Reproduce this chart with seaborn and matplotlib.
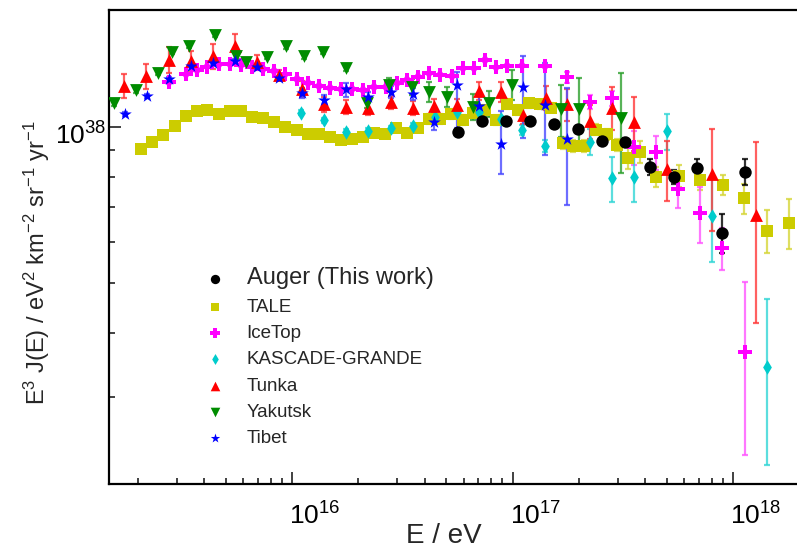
import matplotlib
matplotlib.use("Agg")
import numpy as np
import pandas as pd
import matplotlib.pyplot as plt
from matplotlib.ticker import LogLocator, NullFormatter
from matplotlib.transforms import ScaledTranslation
import seaborn as sns

# energies as log10(E/eV), flux E^3 J(E) in units of 1e37 eV^2 km^-2 sr^-1 yr^-1
auger_lgE = [16.754, 16.860, 16.972, 17.078, 17.187, 17.297, 17.407, 17.510, 17.624, 17.732, 17.838, 17.949, 18.054]
auger_flux = [9.78, 10.24, 10.24, 10.24, 10.12, 9.89, 9.40, 9.36, 8.37, 8.01, 8.31, 6.24, 8.19]
auger_err = [0.1, 0.1, 0.1, 0.1, 0.1, 0.12, 0.15, 0.15, 0.30, 0.25, 0.37, 0.53, 0.47]

tale_lgE = [15.315, 15.366, 15.416, 15.469, 15.518, 15.568, 15.616, 15.668, 15.719, 15.769,
            15.820, 15.870, 15.918, 15.968, 16.021, 16.074, 16.122, 16.172, 16.222, 16.271,
            16.321, 16.372, 16.422, 16.472, 16.523, 16.573, 16.623, 16.671, 16.721, 16.776,
            16.822, 16.874, 16.924, 16.975, 17.025, 17.076, 17.125, 17.175, 17.227, 17.276,
            17.325, 17.377, 17.427, 17.474, 17.525, 17.578, 17.652, 17.754, 17.850, 17.955,
            18.051, 18.153, 18.253]
tale_flux = [9.05, 9.36, 9.64, 10.04, 10.50, 10.74, 10.77, 10.57, 10.74, 10.72,
             10.45, 10.38, 10.21, 10.00, 9.85, 9.67, 9.67, 9.54, 9.43, 9.45,
             9.57, 9.74, 9.69, 9.96, 9.71, 9.94, 10.33, 10.34, 10.60, 10.32,
             10.63, 10.77, 10.30, 11.06, 10.78, 11.10, 11.05, 10.89, 9.32, 9.17,
             9.17, 9.87, 9.66, 9.22, 8.71, 8.95, 8.00, 8.04, 7.88, 7.72,
             7.27, 6.30, 6.53]
tale_err = [0.1] * 26 + [0.23] * 12 + [0.25] * 6 + [0.43, 0.44, 0.36, 0.39, 0.35, 0.34, 0.48, 0.59, 0.73]

icetop_lgE = [15.442, 15.519, 15.568, 15.616, 15.669, 15.719, 15.769, 15.820, 15.870, 15.918,
              15.968, 16.021, 16.071, 16.122, 16.172, 16.222, 16.273, 16.323, 16.373, 16.425,
              16.475, 16.523, 16.573, 16.623, 16.673, 16.724, 16.774, 16.827, 16.875, 16.924,
              16.975, 17.045, 17.149, 17.249, 17.351, 17.450, 17.550, 17.651, 17.752, 17.850,
              17.949, 18.054]
icetop_flux = [12.21, 12.62, 12.87, 13.06, 13.20, 13.20, 13.16, 13.06, 12.91, 12.81,
               12.62, 12.36, 12.16, 12.00, 11.86, 11.81, 11.81, 11.77, 11.94, 11.94,
               12.13, 12.31, 12.49, 12.68, 12.60, 12.54, 12.96, 12.96, 13.45, 13.01,
               13.12, 13.12, 13.08, 12.45, 11.18, 11.34, 9.12, 8.92, 7.59, 6.81,
               5.83, 3.67]
icetop_err = [0.1] * 33 + [0.28, 0.35, 0.40, 0.69, 0.67, 0.61, 0.85, 0.55, 1.35]

kg_lgE = [16.041, 16.145, 16.245, 16.346, 16.448, 16.547, 16.649, 16.747, 16.848, 16.946,
          17.045, 17.147, 17.351, 17.450, 17.552, 17.702, 17.903, 18.153]
kg_flux = [10.63, 10.28, 9.78, 9.81, 9.93, 10.04, 10.43, 10.69, 10.66, 10.35,
           9.85, 9.19, 9.36, 7.95, 8.01, 9.81, 6.73, 3.43]
kg_err = [0.12] * 10 + [0.22, 0.25, 0.54, 0.78, 0.85, 0.78, 1.26, 1.21]

tunka_lgE = [15.238, 15.338, 15.441, 15.541, 15.643, 15.741, 15.843, 15.942, 16.044, 16.144,
             16.245, 16.346, 16.447, 16.547, 16.645, 16.747, 16.848, 16.948, 17.046, 17.151,
             17.249, 17.351, 17.450, 17.550, 17.699, 17.905, 18.105]
tunka_flux = [11.98, 12.53, 13.47, 13.39, 13.69, 14.30, 13.33, 12.60, 11.81, 11.06,
              10.90, 10.88, 11.14, 10.88, 10.95, 10.99, 11.73, 11.68, 10.55, 11.36,
              11.06, 10.24, 10.89, 10.20, 8.28, 8.10, 6.75]
tunka_err = [0.64, 0.70, 0.75, 0.60, 0.78, 0.83, 0.44, 0.28, 0.42, 0.37,
             0.34, 0.34, 0.34, 0.34, 0.34, 0.34, 0.45, 0.52, 0.42, 0.61,
             0.79, 0.77, 1.02, 1.22, 1.10, 1.80, 2.58]

yakutsk_lgE = [15.193, 15.293, 15.390, 15.456, 15.534, 15.651, 15.746, 15.793, 15.888, 15.973,
               16.055, 16.142, 16.246, 16.338, 16.441, 16.542, 16.620, 16.702, 16.819, 16.895,
               16.996, 17.219, 17.302, 17.492]
yakutsk_flux = [11.10, 11.77, 12.71, 13.96, 14.31, 15.03, 13.69, 13.35, 13.65, 14.30,
                13.67, 13.96, 12.98, 11.10, 12.06, 11.94, 11.68, 11.41, 10.93, 11.10,
                12.06, 10.80, 10.80, 10.41]
yakutsk_err = [0.15] * 13 + [0.25, 0.38, 0.42, 0.52, 0.51, 0.61, 0.64, 0.80, 1.25, 1.63, 2.28]

tibet_lgE = [15.243, 15.344, 15.442, 15.541, 15.643, 15.741, 15.843, 15.941, 16.044, 16.144,
             16.246, 16.346, 16.447, 16.547, 16.645, 16.747, 16.848, 16.947, 17.046, 17.147,
             17.249]
tibet_flux = [10.58, 11.46, 12.35, 13.12, 13.26, 13.39, 13.04, 12.43, 11.64, 11.26,
              11.80, 11.39, 11.68, 11.56, 10.23, 12.04, 10.97, 9.27, 11.94, 11.01,
              9.46]
tibet_err_lo = [0.1] * 8 + [0.26, 0.25, 0.37, 0.30, 0.31, 0.31, 0.36, 2.11, 0.60, 1.17, 2.44, 2.19, 2.40]
tibet_err_hi = [0.1] * 8 + [0.26, 0.25, 0.37, 0.30, 0.31, 0.31, 0.36, 0.73, 0.60, 1.45, 1.75, 2.28, 2.40]

labels = ["Auger (This work)", "TALE", "IceTop", "KASCADE-GRANDE", "Tunka", "Yakutsk", "Tibet"]

# build a long table
series = {
    "Auger (This work)": (auger_lgE, auger_flux, auger_err, auger_err),
    "TALE": (tale_lgE, tale_flux, tale_err, tale_err),
    "IceTop": (icetop_lgE, icetop_flux, icetop_err, icetop_err),
    "KASCADE-GRANDE": (kg_lgE, kg_flux, kg_err, kg_err),
    "Tunka": (tunka_lgE, tunka_flux, tunka_err, tunka_err),
    "Yakutsk": (yakutsk_lgE, yakutsk_flux, yakutsk_err, yakutsk_err),
    "Tibet": (tibet_lgE, tibet_flux, tibet_err_lo, tibet_err_hi),
}
rows = []
for name, (lg, fl, lo, hi) in series.items():
    for a, b, c, d in zip(lg, fl, lo, hi):
        rows.append({"exp": name, "E": 10.0 ** a, "flux": b * 1e37, "lo": c * 1e37, "hi": d * 1e37})
df = pd.DataFrame(rows)

# marker styles
styles = {
    "Auger (This work)": dict(marker="o", color="black", s=80, bar="black"),
    "TALE": dict(marker="s", color="#cccc00", s=68, bar="#d6d63a"),
    "IceTop": dict(marker="P", color="#ff00ff", s=100, bar="#ff55ff"),
    "KASCADE-GRANDE": dict(marker="d", color="#00cccc", s=55, bar="#33d6d6"),
    "Tunka": dict(marker="^", color="#ff0000", s=85, bar="#ff3a3a"),
    "Yakutsk": dict(marker="v", color="#008c00", s=85, bar="#2ea02e"),
    "Tibet": dict(marker="*", color="#0000ff", s=90, bar="#4a4aff"),
}
draw_order = ["TALE", "IceTop", "KASCADE-GRANDE", "Tunka", "Yakutsk", "Tibet", "Auger (This work)"]

sns.set_style("ticks")
plt.rcParams["font.family"] = ["Liberation Sans", "DejaVu Sans"]
plt.rcParams["mathtext.fontset"] = "custom"
plt.rcParams["mathtext.rm"] = "Liberation Sans"
plt.rcParams["mathtext.it"] = "Liberation Sans:italic"
plt.rcParams["mathtext.bf"] = "Liberation Sans:bold"

fig = plt.figure(figsize=(7.97, 5.49), dpi=100)
ax = fig.add_axes([109 / 797, 1 - 483.5 / 549, 1 - 109 / 797, 473.5 / 549])

for name in draw_order:
    st = styles[name]
    sub = df[df["exp"] == name]
    ax.errorbar(sub["E"], sub["flux"], yerr=[sub["lo"], sub["hi"]], fmt="none",
                ecolor=st["bar"], elinewidth=1.6, capsize=2.5, capthick=1.6, alpha=0.8, zorder=2)
    sns.scatterplot(data=sub, x="E", y="flux", marker=st["marker"], color=st["color"],
                    s=st["s"], linewidth=0, label=name, ax=ax, zorder=3)

ax.set_xscale("log")
ax.set_yscale("log")
ax.set_xlim(10 ** 15.17, 10 ** 18.29)
ax.set_ylim(10 ** 37.311, 10 ** 38.2253)

ax.xaxis.set_major_locator(LogLocator(base=10, numticks=10))
ax.xaxis.set_minor_locator(LogLocator(base=10, subs=np.arange(2, 10), numticks=10))
ax.yaxis.set_major_locator(LogLocator(base=10, numticks=10))
ax.yaxis.set_minor_locator(LogLocator(base=10, subs=np.arange(2, 10), numticks=10))
ax.yaxis.set_minor_formatter(NullFormatter())
ax.xaxis.set_minor_formatter(NullFormatter())

ax.tick_params(which="both", direction="in", top=False, right=False, width=1.3, colors="#333333")
ax.tick_params(which="major", length=8.5, labelsize=19, labelcolor="black")
ax.tick_params(which="minor", length=4)
ax.tick_params(axis="x", which="major", pad=13.5)
ax.tick_params(axis="y", which="major", pad=2)

# labels sit right of the x ticks and a bit below the y tick, as in the original
for lab in ax.get_xticklabels():
    lab.set_horizontalalignment("left")
    lab.set_transform(lab.get_transform() + ScaledTranslation(-0.03, 0, fig.dpi_scale_trans))
for lab in ax.get_yticklabels():
    lab.set_transform(lab.get_transform() + ScaledTranslation(0, -0.07, fig.dpi_scale_trans))

for side in ["left", "bottom", "top"]:
    ax.spines[side].set_linewidth(1.6)
    ax.spines[side].set_color("black")
ax.spines["right"].set_visible(False)

ax.set_xlabel("E / eV", fontsize=20)
ax.xaxis.set_label_coords(444 / 797, 1 - 523 / 549, transform=fig.transFigure)
ax.set_ylabel(r"E$^{3}$ J(E) / eV$^{2}$ km$^{-2}$ sr$^{-1}$ yr$^{-1}$", fontsize=17)
ax.yaxis.set_label_coords(52 / 797, 1 - 263 / 549, transform=fig.transFigure)

h, l = ax.get_legend_handles_labels()
lookup = dict(zip(l, h))
leg = ax.legend([lookup[n] for n in labels], labels, loc="upper left",
                bbox_to_anchor=(196 / 797, 1 - 258 / 549), bbox_transform=fig.transFigure,
                frameon=False, fontsize=13.5, markerscale=0.75, handletextpad=1.2,
                labelspacing=0.49, borderpad=0, handlelength=1.0)
leg.get_texts()[0].set_fontsize(17)

fig.savefig("out.png", dpi=100)
